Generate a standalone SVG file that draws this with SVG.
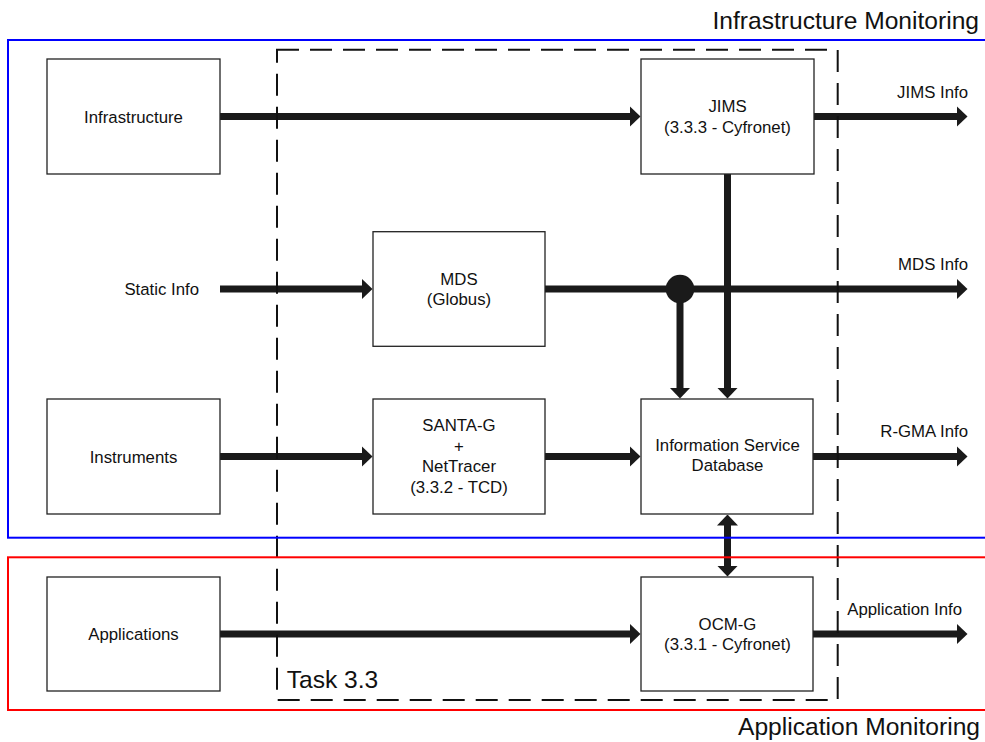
<svg xmlns="http://www.w3.org/2000/svg" width="985" height="742" viewBox="0 0 985 742">
<style>
text{font-family:"Liberation Sans",Arial,sans-serif;fill:#111}
.t{font-size:16.8px;text-anchor:middle}
.l{font-size:16.8px;text-anchor:end}
.big{font-size:24.6px}
.box{fill:#fff;stroke:#222;stroke-width:1.3}
.c{stroke:#1a1a1a;stroke-width:7;fill:none}
.a{marker-end:url(#ah)}
</style>
<defs>
<marker id="ah" viewBox="0 0 11 21" markerUnits="userSpaceOnUse" markerWidth="11" markerHeight="21" refX="0.5" refY="10.5" orient="auto-start-reverse">
<path d="M0,0 L11,10.5 L0,21 z" fill="#1a1a1a"/>
</marker>
</defs>
<rect width="985" height="742" fill="#fff"/>
<g id="connectors">
<line class="c a" x1="220" y1="116.5" x2="630" y2="116.5"/>
<line class="c a" x1="814" y1="116.5" x2="957" y2="116.5"/>
<line class="c a" x1="220" y1="289" x2="362" y2="289"/>
<line class="c a" x1="545" y1="289" x2="957" y2="289"/>
<line class="c a" x1="680" y1="289" x2="680" y2="388"/>
<line class="c a" x1="727.5" y1="174" x2="727.5" y2="388"/>
<circle cx="680" cy="289" r="14.3" fill="#1a1a1a"/>
<line class="c a" x1="220" y1="456.5" x2="362" y2="456.5"/>
<line class="c a" x1="545" y1="456.5" x2="630" y2="456.5"/>
<line class="c a" x1="813" y1="456.5" x2="957" y2="456.5"/>
<line class="c a" x1="727.5" y1="525" x2="727.5" y2="566" style="marker-start:url(#ah)"/>
<line class="c a" x1="220" y1="634" x2="630" y2="634"/>
<line class="c a" x1="813" y1="634" x2="957" y2="634"/>
</g>
<g id="infrastructure"><rect class="box" x="47" y="59" width="173" height="115"/><text class="t" x="133.5" y="122.5">Infrastructure</text></g>
<g id="jims"><rect class="box" x="641" y="59" width="173" height="115"/><text class="t" x="727.5" y="112.3">JIMS</text><text class="t" x="727.5" y="132.7">(3.3.3 - Cyfronet)</text></g>
<g id="mds"><rect class="box" x="373" y="231.7" width="172" height="114.6"/><text class="t" x="459" y="284.5">MDS</text><text class="t" x="459" y="305">(Globus)</text></g>
<g id="instruments"><rect class="box" x="47" y="399" width="173" height="115"/><text class="t" x="133.5" y="462.5">Instruments</text></g>
<g id="santa"><rect class="box" x="373" y="399" width="172" height="115"/><text class="t" x="459" y="431">SANTA-G</text><text class="t" x="459" y="451.5">+</text><text class="t" x="459" y="472">NetTracer</text><text class="t" x="459" y="492.5">(3.3.2 - TCD)</text></g>
<g id="isd"><rect class="box" x="641" y="399" width="172" height="115"/><text class="t" x="727.5" y="450.5">Information Service</text><text class="t" x="727.5" y="471">Database</text></g>
<g id="applications"><rect class="box" x="47" y="577" width="173" height="114"/><text class="t" x="133.5" y="640">Applications</text></g>
<g id="ocmg"><rect class="box" x="641" y="577" width="172" height="114"/><text class="t" x="727.5" y="629.5">OCM-G</text><text class="t" x="727.5" y="650">(3.3.1 - Cyfronet)</text></g>
<g id="labels">
<text class="l" x="199" y="294.5">Static Info</text>
<text class="l" x="968" y="98">JIMS Info</text>
<text class="l" x="968" y="269.5">MDS Info</text>
<text class="l" x="968" y="437">R-GMA Info</text>
<text class="l" x="962" y="614.5">Application Info</text>
</g>
<g id="task33">
<rect x="277" y="49.7" width="560.7" height="650.3" fill="none" stroke="#111" stroke-width="2" stroke-dasharray="22 11"/>
<text class="big" x="286.7" y="688.3">Task 3.3</text>
</g>
<g id="infra-monitoring">
<rect x="8" y="40" width="990" height="497.7" fill="none" stroke="#0000ff" stroke-width="2"/>
<text class="big" x="979" y="28.5" text-anchor="end">Infrastructure Monitoring</text>
</g>
<g id="app-monitoring">
<rect x="8" y="557.3" width="990" height="152.7" fill="none" stroke="#ff0000" stroke-width="2"/>
<text class="big" x="980" y="735" text-anchor="end">Application Monitoring</text>
</g>
</svg>
